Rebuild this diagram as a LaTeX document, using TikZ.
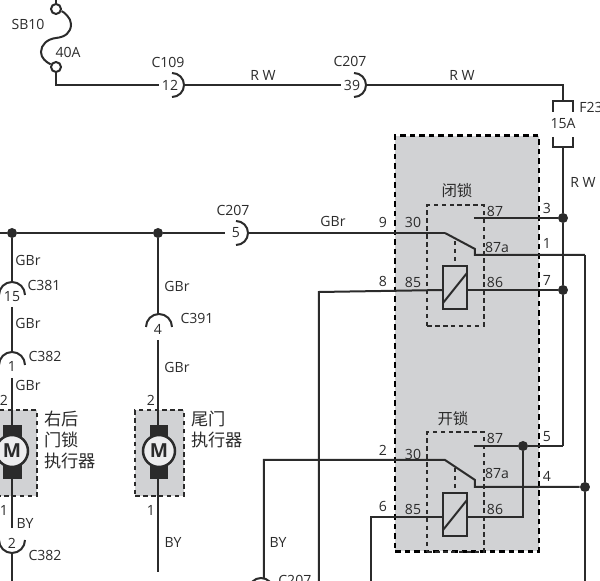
\documentclass[tikz,border=0pt]{standalone}
\usepackage{fontspec}
\setmainfont{Open Sans}
\newfontfamily\cjk{Noto Sans CJK SC}
\definecolor{ink}{HTML}{2B2B2B}
\definecolor{boxgrey}{HTML}{D1D2D4}
\tikzset{
  wire/.style = {draw=ink, line width=0.4mm},
  lab/.style = {inner sep=0pt, font=\fontsize{8}{9}\selectfont, text=ink},
  zh/.style = {inner sep=0pt, font=\cjk\fontsize{9.8}{11}\selectfont, text=ink},
  dot/.style = {circle, fill=ink, inner sep=0pt, minimum size=2mm},
  ring/.style = {circle, draw=ink, fill=white, line width=0.4mm, inner sep=0pt, minimum size=2mm},
  pin/.style = {inner sep=0pt, minimum size=4.4mm, font=\fontsize{8}{9}\selectfont, text=ink},
  outer/.style = {draw=black, fill=boxgrey, line width=0.5mm, dash pattern=on 1.1mm off 0.8mm},
  inner/.style = {draw=ink, line width=0.35mm, dash pattern=on 0.9mm off 0.7mm},
  motor/.style = {draw=ink, fill=boxgrey, line width=0.35mm, dash pattern=on 0.9mm off 0.7mm},
  coil/.style = {draw=ink, line width=0.45mm, minimum width=4.8mm, minimum height=8.6mm, inner sep=0pt},
  rotor/.style = {circle, draw=ink, fill=boxgrey!40, line width=0.5mm, minimum size=6.4mm, inner sep=0pt, font=\bfseries\fontsize{11}{11}\selectfont, text=ink}
}
\begin{document}
\begin{tikzpicture}[x=0.02cm, y=-0.02cm]
\useasboundingbox (0,0) rectangle (600,581);
\clip (0,0) rectangle (600,581);

% grey boxes first
\node[outer, minimum width=28.8mm, minimum height=83.2mm, inner sep=0pt] (relaybox) at (467,343.5) {};
\node[inner, minimum width=11.4mm, minimum height=24.2mm, inner sep=0pt] (upbox) at (455.5,265.5) {};
\node[inner, minimum width=11.4mm, minimum height=24mm, inner sep=0pt] (lowbox) at (455.5,492) {};
\node[motor, minimum width=9.8mm, minimum height=17.2mm, inner sep=0pt] (mbox1) at (12.5,453) {};
\node[motor, minimum width=9.8mm, minimum height=17.2mm, inner sep=0pt] (mbox2) at (159.5,453) {};

% fuse SB10
\node[ring] (sbtop) at (56,9) {};
\node[ring] (sblow) at (56,67) {};
\coordinate (sbin) at (56,0);
\coordinate (c0) at (56,85);
\draw[wire] (sbin) -- (sbtop);
\draw[wire] (sbtop) .. controls (64,12) and (71,18) .. (71,24) .. controls (71,33) and (65,37) .. (56,38)
  .. controls (47,39) and (41,45) .. (41,52) .. controls (41,58) and (46,62) .. (sblow);
\node[lab] (sb10) at (28,24) {SB10};
\node[lab] (a40) at (68,52) {40A};

% top line
\node[pin] (c12) at (170,85) {12};
\node[pin] (c39) at (352,85) {39};
\coordinate (c12r) at (184,85);
\coordinate (c39r) at (366,85);
\coordinate (f1) at (563,85);
\coordinate (f2) at (563,101);
\draw[wire] (sblow) -- (c0) -- (c12);
\draw[wire] (172,73) arc[start angle=90, end angle=-90, radius=2.4mm];
\draw[wire] (c12r) -- (c39);
\draw[wire] (354,73) arc[start angle=90, end angle=-90, radius=2.4mm];
\draw[wire] (c39r) -- (f1) -- (f2);
\node[lab] (c109) at (168,62) {C109};
\node[lab] (c207a) at (350,61) {C207};
\node[lab] (rw1) at (263,75) {R W};
\node[lab] (rw2) at (462,75) {R W};

% fuse F23
\coordinate (f3) at (563,147);
\node[dot] (j3) at (563,218) {};
\node[dot] (j7) at (563,290) {};
\coordinate (j5) at (563,446);
\draw[wire] (553,112) -- (553,101) -- (573,101) -- (573,112);
\draw[wire] (553,137) -- (553,147) -- (573,147) -- (573,137);
\draw[wire] (f3) -- (j3) -- (j7) -- (j5);
\node[lab, anchor=west] (f23) at (579,107) {F23};
\node[lab] (a15) at (563,124) {15A};
\node[lab] (rw3) at (583,182) {R W};

% upper relay
\node[coil] (coil1) at (455,287.5) {};
\coordinate (up87) at (474,218);
\coordinate (up30) at (445,233);
\coordinate (upa) at (475,249);
\coordinate (upb) at (475,255);
\coordinate (upc) at (585,255);
\coordinate (d1) at (455,241);
\coordinate (w85) at (319,292);
\coordinate (w85b) at (319,581);
\coordinate (coil1l) at (443,290);
\coordinate (coil1r) at (467,290);
\draw[wire] (up87) -- (j3);
\draw[wire] (up30) -- (upa) -- (upb) -- (upc);
\draw[inner] (d1) -- (coil1);
\draw[wire] (443,303) -- (467,273);
\draw[wire] (w85b) -- (w85) -- (coil1l);
\draw[wire] (coil1r) -- (j7);
\node[lab] (blk) at (457,191) {\cjk\fontsize{8.8}{10}\selectfont 闭锁};
\node[lab] (p87) at (495,211) {87};
\node[lab] (p87a) at (497,247) {87a};
\node[lab] (p86) at (495,282) {86};
\node[lab] (p85) at (413,282) {85};
\node[lab] (p30) at (413,222) {30};
\node[lab] (n9) at (383,222) {9};
\node[lab] (n8) at (383,281) {8};
\node[lab] (n3) at (547,208) {3};
\node[lab] (n1) at (547,243) {1};
\node[lab] (n7) at (547,280) {7};

% lower relay
\node[coil] (coil2) at (455,514.5) {};
\node[dot] (j5b) at (523,446) {};
\node[dot] (j4) at (585,487) {};
\coordinate (lo87) at (474,446);
\coordinate (lo30) at (445,460);
\coordinate (loa) at (475,480);
\coordinate (lob) at (475,487);
\coordinate (w30) at (264,460);
\coordinate (w30b) at (264,578);
\coordinate (d2) at (455,468);
\coordinate (lo86) at (523,517);
\coordinate (w6) at (371,517);
\coordinate (w6b) at (371,581);
\coordinate (bot) at (585,581);
\coordinate (coil2l) at (443,517);
\coordinate (coil2r) at (467,517);
\draw[wire] (lo87) -- (j5b) -- (j5);
\draw[wire] (w30b) -- (w30) -- (lo30) -- (loa) -- (lob) -- (j4);
\draw[wire] (upc) -- (j4) -- (bot);
\draw[inner] (d2) -- (coil2);
\draw[wire] (443,530) -- (467,500);
\draw[wire] (w6b) -- (w6) -- (coil2l);
\draw[wire] (coil2r) -- (lo86) -- (j5b);
\draw[wire] (273,590) arc[start angle=0, end angle=180, radius=2.4mm];
\node[lab] (klk) at (453,419) {\cjk\fontsize{8.8}{10}\selectfont 开锁};
\node[lab] (q87) at (495,438) {87};
\node[lab] (q87a) at (497,473) {87a};
\node[lab] (q86) at (495,509) {86};
\node[lab] (q85) at (413,509) {85};
\node[lab] (q30) at (413,454) {30};
\node[lab] (n2) at (383,450) {2};
\node[lab] (n6) at (383,506) {6};
\node[lab] (n5) at (547,437) {5};
\node[lab] (n4) at (547,476) {4};
\node[lab] (by3) at (278,542) {BY};
\node[lab, anchor=west] (c207c) at (278,580) {C207};

% GBr bus
\node[dot] (j12) at (12,233) {};
\node[dot] (j158) at (158,233) {};
\coordinate (busl) at (0,233);
\node[pin] (c5) at (236,233) {5};
\coordinate (c5r) at (249,233);
\draw[wire] (busl) -- (j12) -- (j158) -- (c5);
\draw[wire] (236,221) arc[start angle=90, end angle=-90, radius=2.4mm];
\draw[wire] (c5r) -- (up30);
\node[lab] (c207b) at (233,210) {C207};
\node[lab] (gbr0) at (333,221) {GBr};

% left branch
\node[pin] (c15) at (12,297) {15};
\node[pin] (c1) at (12,366) {1};
\node[pin] (c2) at (12,543) {2};
\coordinate (b1) at (12,282);
\coordinate (b2) at (12,307);
\coordinate (b3) at (12,352);
\coordinate (b4) at (12,378);
\coordinate (b5) at (12,528);
\coordinate (b6) at (12,553);
\coordinate (b7) at (12,581);
\draw[wire] (j12) -- (b1);
\draw[wire] (25,295) arc[start angle=0, end angle=180, radius=2.6mm];
\draw[wire] (b2) -- (b3);
\draw[wire] (25,365) arc[start angle=0, end angle=180, radius=2.6mm];
\draw[wire] (b4) -- (b5);
\draw[wire] (25,540) arc[start angle=0, end angle=-180, radius=2.6mm];
\draw[wire] (b6) -- (b7);
\node[lab] (c381) at (44,285) {C381};
\node[lab] (c382a) at (45,356) {C382};
\node[lab] (c382b) at (45,555) {C382};
\node[lab] (gbr1) at (28,260) {GBr};
\node[lab] (gbr2) at (28,323) {GBr};
\node[lab] (gbr3) at (28,385) {GBr};
\node[lab] (by1) at (25,523) {BY};
\node[lab] (m1p2) at (4,400) {2};
\node[lab] (m1p1) at (4,510) {1};
\fill[ink] (3,425) rectangle (22,479);
\node[rotor] (m1) at (12,451) {M};
\node[zh, anchor=west] (t1) at (44,419) {右后};
\node[zh, anchor=west] (t2) at (44,440) {门锁};
\node[zh, anchor=west] (t3) at (44,461) {执行器};

% right branch
\node[pin] (c4) at (158,329) {4};
\coordinate (e1) at (158,315);
\coordinate (e2) at (158,340);
\coordinate (e3) at (158,572);
\draw[wire] (j158) -- (e1);
\draw[wire] (172,327) arc[start angle=0, end angle=180, radius=2.6mm];
\draw[wire] (e2) -- (e3);
\node[lab] (c391) at (197,318) {C391};
\node[lab] (gbr4) at (177,286) {GBr};
\node[lab] (gbr5) at (177,367) {GBr};
\node[lab] (by2) at (173,542) {BY};
\node[lab] (m2p2) at (151,400) {2};
\node[lab] (m2p1) at (151,510) {1};
\fill[ink] (150,425) rectangle (168,479);
\node[rotor] (m2) at (159,451) {M};
\node[zh, anchor=west] (t4) at (191,419) {尾门};
\node[zh, anchor=west] (t5) at (191,440) {执行器};
\end{tikzpicture}
\end{document}
